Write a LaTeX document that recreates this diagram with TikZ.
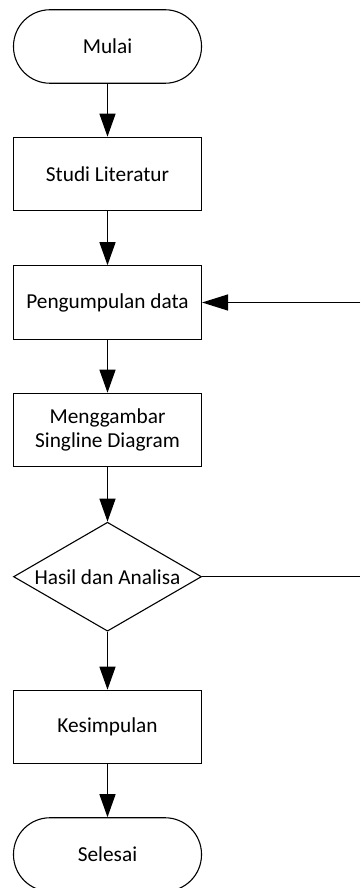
\documentclass[tikz,border=0pt]{standalone}
\usepackage{fontspec}
\setmainfont{Carlito}
\usetikzlibrary{arrows.meta,shapes.geometric}
\begin{document}
\begin{tikzpicture}[x=1pt,y=-1pt,
  every node/.style={font=\fontsize{21.3pt}{24.5pt}\selectfont},
  proc/.style={draw,line width=1.1pt,minimum width=188pt,minimum height=73.5pt,inner sep=0pt,align=center},
  term/.style={proc,rounded corners=36.5pt},
  dia/.style={draw,line width=1.1pt,diamond,minimum width=188pt,minimum height=109pt,inner sep=0pt},
  arr/.style={line width=1.3pt,-{Triangle[length=23pt,width=16pt]}},
  harr/.style={line width=1.3pt,-{Triangle[length=26pt,width=16pt]}},
  ln/.style={line width=1.1pt}]
\useasboundingbox (0,0) rectangle (360,888);
\node[term] (mulai) at (107.5,46.5) {Mulai};
\node[proc] (studi) at (107.5,174) {Studi Literatur};
\node[proc] (kumpul) at (107.5,302.5) {Pengumpulan data};
\node[proc] (gambar) at (107.5,430) {Menggambar\\Singline Diagram};
\node[dia] (hasil) at (107.5,576.7) {};
\node at (hasil) {Hasil dan Analisa};
\node[proc] (simpul) at (107.5,727) {Kesimpulan};
\node[term] (selesai) at (107.5,854.5) {Selesai};
\coordinate (r1) at (360,302.5);
\coordinate (r2) at (360,576.7);
\draw[arr] (mulai) -- (studi);
\draw[arr] (studi) -- (kumpul);
\draw[arr] (kumpul) -- (gambar);
\draw[arr] (gambar) -- (hasil);
\draw[arr] (hasil) -- (simpul);
\draw[arr] (simpul) -- (selesai);
\draw[harr] (r1) -- (kumpul);
\draw[ln] (hasil.east) -- (r2);
\end{tikzpicture}
\end{document}
